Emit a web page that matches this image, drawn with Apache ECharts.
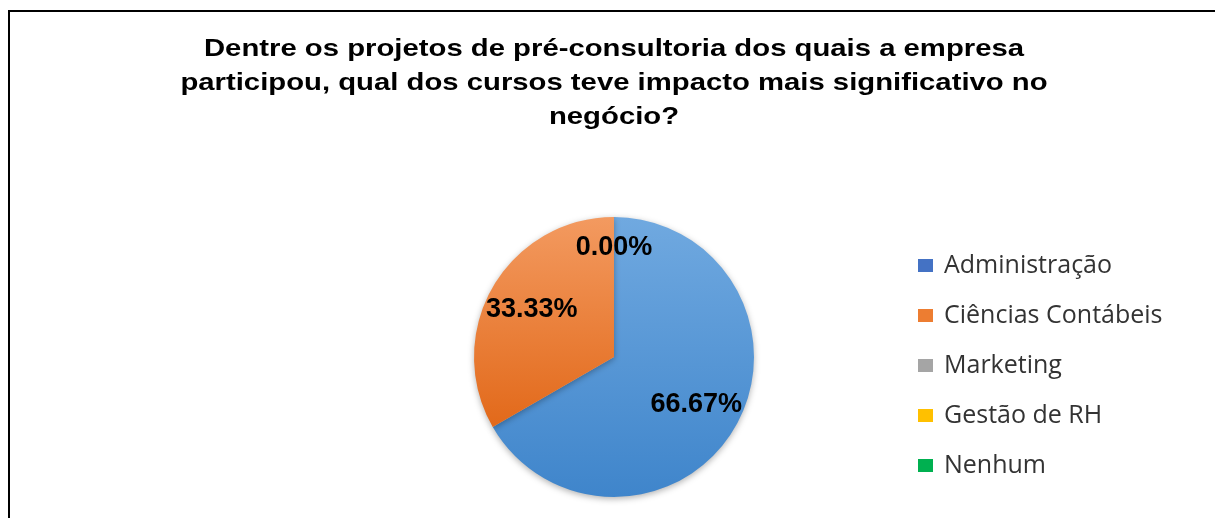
<!DOCTYPE html>
<html>
<head>
<meta charset="utf-8">
<script src="https://cdn.jsdelivr.net/npm/echarts@6/dist/echarts.min.js"></script>
<style>
  html, body { margin: 0; padding: 0; background: #fff; }
  #chart { width: 1215px; height: 518px; position: relative; }
  .frame {
    position: absolute; left: 8px; top: 10px; width: 1220px; height: 520px;
    border-left: 2px solid #000; border-top: 2px solid #000;
  }
</style>
</head>
<body>
<div id="chart"></div>
<div class="frame"></div>
<script>
// dados do gráfico
const titleText = 'Dentre os projetos de pré-consultoria dos quais a empresa\nparticipou, qual dos cursos teve impacto mais significativo no\nnegócio?'
const categories = ['Administração', 'Ciências Contábeis', 'Marketing', 'Gestão de RH', 'Nenhum']
const percentValues = [66.67, 33.33, 0, 0, 0]
const legendColors = ['#4472C4', '#ED7D31', '#A5A5A5', '#FFC000', '#00B050']
const sliceTop = ['#70A9E0', '#F39A60', '#B8B8B8', '#FFCC40', '#40C070']
const sliceBottom = ['#3F85CB', '#E2691A', '#959595', '#F0B400', '#00A048']

const chart = echarts.init(document.getElementById('chart'))

const grad = (i) => new echarts.graphic.LinearGradient(0, 0, 0, 1, [
  { offset: 0, color: sliceTop[i] },
  { offset: 1, color: sliceBottom[i] }
])

// fatias visíveis
const pieData = categories.map((name, i) => ({
  name,
  value: percentValues[i],
  itemStyle: { color: grad(i) }
}))

// série transparente só para os rótulos (mais afastados do centro)
let zeroShown = false
const labelData = categories.map((name, i) => {
  const isZero = percentValues[i] === 0
  const show = !isZero || !zeroShown
  if (isZero) zeroShown = true
  return {
    name,
    value: percentValues[i],
    label: { show, offset: isZero ? [0, -14] : [0, 0] }
  }
})

const option = {
  animation: false,
  color: legendColors,
  // título (texto um pouco esticado na horizontal, como no original)
  graphic: [
    {
      type: 'text',
      x: 614,
      y: 32,
      scaleX: 1.22,
      silent: true,
      style: {
        text: titleText,
        fontFamily: 'Liberation Sans, Arial, sans-serif',
        fontSize: 24,
        fontWeight: 'bold',
        fill: '#000',
        lineHeight: 34,
        align: 'center',
        verticalAlign: 'top'
      }
    }
  ],
  legend: {
    orient: 'vertical',
    left: 913,
    top: 248,
    icon: 'rect',
    itemWidth: 15,
    itemHeight: 13,
    itemGap: 25,
    data: categories.map((name, i) => ({ name, itemStyle: { color: legendColors[i] } })),
    textStyle: {
      fontFamily: 'Open Sans, Noto Sans, sans-serif',
      fontSize: 25,
      color: '#333333',
      padding: [0, 0, 0, 6]
    }
  },
  series: [
    {
      name: 'fatias',
      type: 'pie',
      center: [614, 357],
      radius: [0, 140],
      startAngle: 90,
      clockwise: true,
      silent: true,
      label: { show: false },
      labelLine: { show: false },
      itemStyle: {
        shadowBlur: 6,
        shadowColor: 'rgba(0,0,0,0.3)',
        shadowOffsetY: 2
      },
      data: pieData
    },
    {
      name: 'rotulos',
      type: 'pie',
      center: [614, 357],
      radius: [44, 140],
      startAngle: 90,
      clockwise: true,
      silent: true,
      legendHoverLink: false,
      itemStyle: { color: 'rgba(0,0,0,0)' },
      labelLine: { show: false },
      label: {
        position: 'inside',
        formatter: (p) => p.percent.toFixed(2) + '%',
        fontFamily: 'Liberation Sans, Arial, sans-serif',
        fontSize: 27,
        fontWeight: 'bold',
        color: '#000',
        textBorderWidth: 0
      },
      data: labelData
    }
  ]
}

chart.setOption(option)
</script>
</body>
</html>
